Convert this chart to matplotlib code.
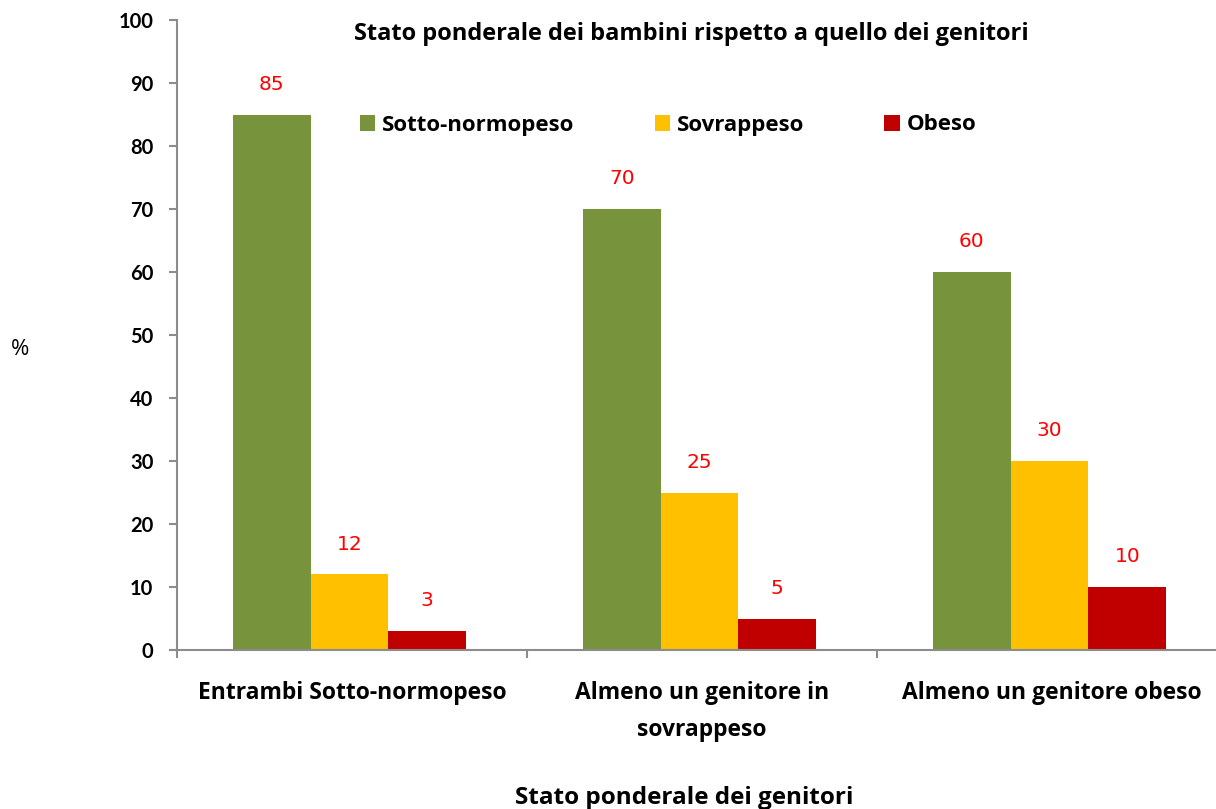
import matplotlib
matplotlib.use("Agg")
import matplotlib.pyplot as plt
import numpy as np

plt.rcParams['font.family'] = ['Lato', 'DejaVu Sans']

categorie = ["Entrambi Sotto-normopeso", "Almeno un genitore in\nsovrappeso", "Almeno un genitore obeso"]
serie = ["Sotto-normopeso", "Sovrappeso", "Obeso"]
sotto_normopeso = [85, 70, 60]
sovrappeso = [12, 25, 30]
obeso = [3, 5, 10]
colori = ["#77933C", "#FFC000", "#C00000"]
yticks = list(range(0, 101, 10))

testo = "Open Sans"

fig = plt.figure(figsize=(12.16, 8.09), dpi=100)
ax = fig.add_axes([177 / 1216, 159 / 809, 1050 / 1216, 630 / 809])

x = np.arange(len(categorie))
w = 0.222
for i, (nome, valori) in enumerate(zip(serie, [sotto_normopeso, sovrappeso, obeso])):
    pos = x + (i - 1) * w - 0.007
    bars = ax.bar(pos, valori, width=w, color=colori[i], label=nome, zorder=2)
    for b, v in zip(bars, valori):
        ax.annotate(str(v), (b.get_x() + b.get_width() / 2, v), xytext=(0, 15),
                    textcoords="offset points", ha="center", va="bottom",
                    color="#FF0000", fontsize=14.5, family="DejaVu Sans")

ax.set_xlim(-0.5, 2.5)
ax.set_ylim(0, 100)
ax.set_yticks(yticks)
ax.set_yticklabels([str(t) for t in yticks], fontsize=14.5, fontweight="bold")
ax.set_xticks(x)
ax.set_xticklabels(categorie, fontsize=16.5, fontweight="bold", family=testo, linespacing=1.75)
ax.tick_params(axis="x", length=0, pad=22)
ax.set_xticks([-0.5, 0.5, 1.5, 2.5], minor=True)
ax.tick_params(axis="x", which="minor", length=6, width=1.5, color="#8C8C8C", direction="out")
ax.tick_params(axis="y", length=6, width=1.5, color="#8C8C8C", pad=11)

for s in ["top", "right"]:
    ax.spines[s].set_visible(False)
for s in ["left", "bottom"]:
    ax.spines[s].set_color("#8C8C8C")
    ax.spines[s].set_linewidth(1.5)

leg = ax.legend(ncol=3, loc="center", bbox_to_anchor=(668 / 1216, 1 - 125 / 809),
                bbox_transform=fig.transFigure, frameon=False,
                prop={"family": testo, "size": 16, "weight": "bold"},
                handlelength=0.7, handleheight=0.7, handletextpad=0.3, columnspacing=3.6)

fig.text(691 / 1216, 1 - 34 / 809, "Stato ponderale dei bambini rispetto a quello dei genitori",
         ha="center", va="center", fontsize=17, fontweight="bold", family=testo)
fig.text(684 / 1216, 1 - 798 / 809, "Stato ponderale dei genitori",
         ha="center", va="center", fontsize=17.5, fontweight="bold", family=testo)
fig.text(20 / 1216, 1 - 350 / 809, "%", ha="center", va="center", fontsize=16, family=testo)

fig.savefig("out.png", dpi=100)
